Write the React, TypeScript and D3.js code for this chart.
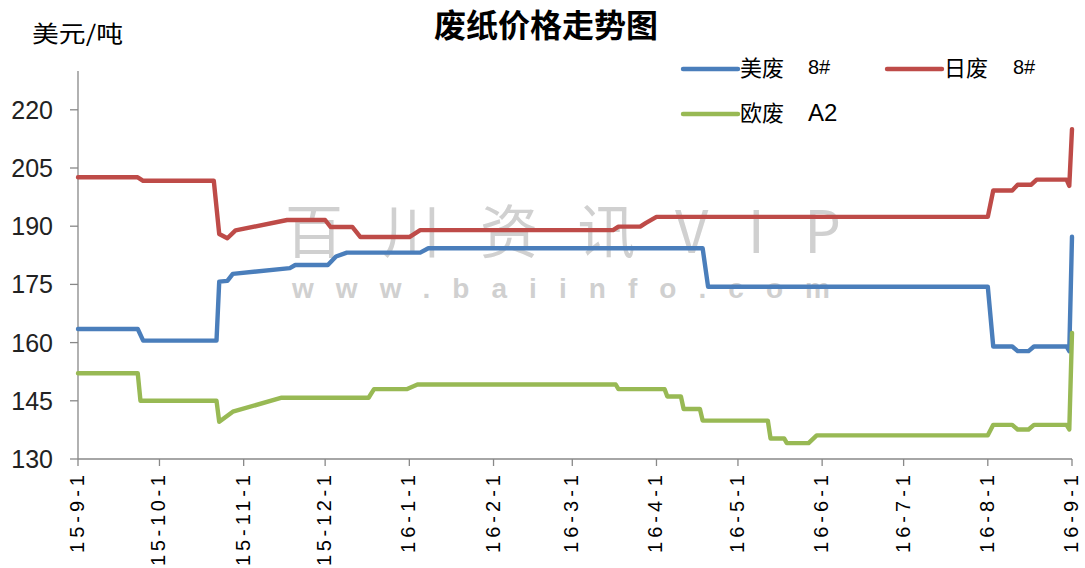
import React from "react";
import * as d3 from "d3";

const tickDates = [
  "2015-09-01", "2015-10-01", "2015-11-01", "2015-12-01", "2016-01-01", "2016-02-01", "2016-03-01",
  "2016-04-01", "2016-05-01", "2016-06-01", "2016-07-01", "2016-08-01", "2016-09-01",
];
const tickLabels = [
  "15-9-1", "15-10-1", "15-11-1", "15-12-1", "16-1-1", "16-2-1", "16-3-1",
  "16-4-1", "16-5-1", "16-6-1", "16-7-1", "16-8-1", "16-9-1",
];
const yTicks = [130, 145, 160, 175, 190, 205, 220];

const usWaste: [string, number][] = [
  ["2015-09-01", 163.5], ["2015-09-23", 163.5], ["2015-09-25", 160.5], ["2015-10-22", 160.5],
  ["2015-10-23", 175.7], ["2015-10-26", 175.9], ["2015-10-28", 177.7], ["2015-11-18", 179.2],
  ["2015-11-20", 180], ["2015-12-02", 180], ["2015-12-05", 182.2], ["2015-12-09", 183.2],
  ["2016-01-05", 183.2], ["2016-01-08", 184.3], ["2016-04-18", 184.3], ["2016-04-20", 174.4],
  ["2016-08-01", 174.4], ["2016-08-03", 159], ["2016-08-10", 159], ["2016-08-12", 157.8],
  ["2016-08-16", 157.8], ["2016-08-18", 159], ["2016-08-30", 159], ["2016-08-31", 157.8],
  ["2016-09-01", 187.3],
];

const jpWaste: [string, number][] = [
  ["2015-09-01", 202.6], ["2015-09-23", 202.6], ["2015-09-25", 201.7], ["2015-10-21", 201.7],
  ["2015-10-23", 188], ["2015-10-26", 186.9], ["2015-10-29", 188.9], ["2015-11-17", 191.6],
  ["2015-12-01", 191.6], ["2015-12-03", 189.8], ["2015-12-11", 189.8], ["2015-12-14", 187.2],
  ["2016-01-01", 187.2], ["2016-01-05", 189], ["2016-03-16", 189], ["2016-03-18", 189.9],
  ["2016-03-26", 189.9], ["2016-03-28", 190.8], ["2016-04-01", 192.4], ["2016-08-01", 192.4],
  ["2016-08-03", 199.2], ["2016-08-10", 199.2], ["2016-08-12", 200.7], ["2016-08-17", 200.7],
  ["2016-08-19", 202], ["2016-08-30", 202], ["2016-08-31", 200.4], ["2016-09-01", 215],
];

const euWaste: [string, number][] = [
  ["2015-09-01", 152.1], ["2015-09-23", 152.1], ["2015-09-24", 145], ["2015-10-22", 145],
  ["2015-10-23", 139.6], ["2015-10-28", 142.2], ["2015-11-15", 145.8], ["2015-12-17", 145.8],
  ["2015-12-19", 148], ["2015-12-31", 148], ["2016-01-04", 149.2], ["2016-03-17", 149.2],
  ["2016-03-18", 148], ["2016-04-04", 148], ["2016-04-05", 146.1], ["2016-04-10", 146.1],
  ["2016-04-11", 142.9], ["2016-04-17", 142.9], ["2016-04-18", 139.9], ["2016-05-12", 139.9],
  ["2016-05-13", 135.3], ["2016-05-18", 135.3], ["2016-05-19", 134.1], ["2016-05-27", 134.1],
  ["2016-05-30", 136.1], ["2016-08-01", 136.1], ["2016-08-03", 138.8], ["2016-08-10", 138.8],
  ["2016-08-12", 137.6], ["2016-08-16", 137.6], ["2016-08-18", 138.8], ["2016-08-30", 138.8],
  ["2016-08-31", 137.6], ["2016-09-01", 162.5],
];

const seriesNames = ["美废", "日废", "欧废"];
const seriesCodes = ["8#", "8#", "A2"];

const W = 1085;
const H = 568;
const CJK = "'Noto Sans CJK SC', 'Noto Sans', sans-serif";
const LAT = "'Liberation Sans', Arial, sans-serif";

export default function App() {
  const parse = d3.timeParse("%Y-%m-%d");
  const x = d3
    .scaleTime()
    .domain([parse(tickDates[0])!, parse(tickDates[tickDates.length - 1])!])
    .range([78, 1072]);
  const y = d3.scaleLinear().domain([130, 230]).range([459, 71]);

  const line = d3
    .line<[string, number]>()
    .x((d) => x(parse(d[0])!))
    .y((d) => y(d[1]));

  const series = [
    { data: usWaste, color: "#4A7EBB" },
    { data: jpWaste, color: "#BE4B48" },
    { data: euWaste, color: "#98B954" },
  ];

  const legendPos = [
    { lx: 683, ly: 69, tx: 740, cx: 808 },
    { lx: 887, ly: 69, tx: 944, cx: 1013 },
    { lx: 683, ly: 114, tx: 740, cx: 808 },
  ];

  return (
    <svg
      width={W}
      height={H}
      style={{ position: "absolute", left: 0, top: 0, background: "#fff" }}
    >
      <rect x={0} y={0} width={W} height={H} fill="#fff" />
      {/* watermark */}
      <text
        x={285}
        y={253}
        fontFamily={CJK}
        fontSize={58}
        fontWeight={400}
        fill="#d0d0d0"
        textLength={556}
        lengthAdjust="spacing"
      >
        百川资讯VIP
      </text>
      <text
        x={292}
        y={298}
        fontFamily={LAT}
        fontSize={28}
        fontWeight="bold"
        fill="#d0d0d0"
        textLength={538}
        lengthAdjust="spacing"
      >
        www.baiinfo.com
      </text>

      {/* title */}
      <text x={546} y={37} textAnchor="middle" fontFamily={CJK} fontSize={32} fontWeight="bold" fill="#000">
        废纸价格走势图
      </text>
      {/* unit */}
      <text x={32} y={42} fontFamily={CJK} fontSize={23} fill="#000" textLength={91} lengthAdjust="spacingAndGlyphs">
        美元/吨
      </text>

      {/* y axis */}
      <line x1={78} x2={78} y1={y(230)} y2={459} stroke="#888" strokeWidth={1.3} />
      {yTicks.map((t) => (
        <g key={t}>
          <line x1={70} x2={78} y1={y(t)} y2={y(t)} stroke="#888" strokeWidth={1.3} />
          <text
            x={53}
            y={y(t)}
            dy="0.36em"
            textAnchor="end"
            fontFamily={LAT}
            fontSize={25}
            fill="#222"
          >
            {t}
          </text>
        </g>
      ))}

      {/* x axis */}
      <line x1={78} x2={1072} y1={459} y2={459} stroke="#888" strokeWidth={1.3} />
      {tickDates.map((d, i) => {
        const tx = x(parse(d)!);
        return (
          <g key={d}>
            <line x1={tx} x2={tx} y1={459} y2={466} stroke="#888" strokeWidth={1.3} />
            <text
              transform={`translate(${tx + 6},475) rotate(-90)`}
              textAnchor="end"
              fontFamily={LAT}
              fontSize={20}
              fill="#000"
              textLength={tickLabels[i].length * 13}
              lengthAdjust="spacing"
            >
              {tickLabels[i]}
            </text>
          </g>
        );
      })}

      {/* lines */}
      {series.map((s, i) => (
        <path
          key={i}
          d={line(s.data) ?? ""}
          fill="none"
          stroke={s.color}
          strokeWidth={4.4}
          strokeLinejoin="round"
          strokeLinecap="round"
        />
      ))}

      {/* legend */}
      {series.map((s, i) => {
        const p = legendPos[i];
        const isA2 = seriesCodes[i] === "A2";
        return (
          <g key={i}>
            <line x1={p.lx} x2={p.lx + 55} y1={p.ly} y2={p.ly} stroke={s.color} strokeWidth={4.4} strokeLinecap="round" />
            <text x={p.tx} y={p.ly + 7} fontFamily={CJK} fontSize={22} fill="#000">
              {seriesNames[i]}
            </text>
            <text
              x={p.cx}
              y={p.ly + (isA2 ? 7 : 5)}
              fontFamily={LAT}
              fontSize={isA2 ? 24 : 20}
              fill="#000"
            >
              {seriesCodes[i]}
            </text>
          </g>
        );
      })}
    </svg>
  );
}
